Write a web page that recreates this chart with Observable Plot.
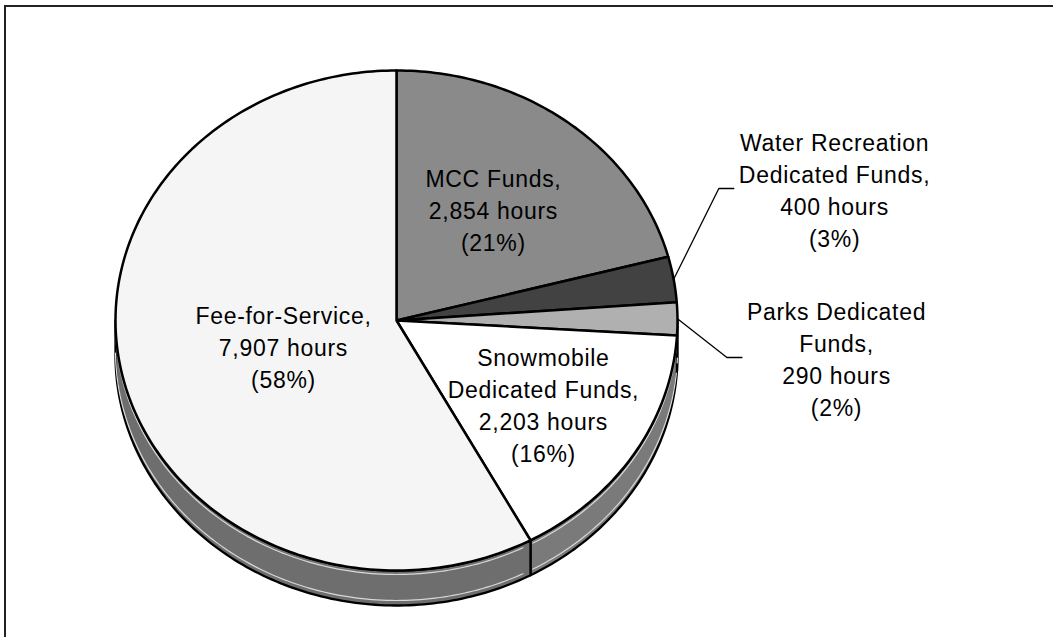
<!DOCTYPE html>
<html><head><meta charset="utf-8">
<script src="https://cdn.jsdelivr.net/npm/d3@7"></script>
<script src="https://cdn.jsdelivr.net/npm/@observablehq/plot@0.6"></script>
<style>
html,body{margin:0;padding:0;background:#fff;}
#wrap{position:relative;width:1053px;height:637px;overflow:hidden;background:#fff;}
#frame{position:absolute;left:4px;top:5px;width:1200px;height:800px;border-left:2px solid #222;border-top:2px solid #222;box-sizing:border-box;pointer-events:none;}
#chart{position:absolute;left:0;top:0;}
#chart svg text{letter-spacing:0.7px;}
</style></head><body>
<div id="wrap"><div id="chart"></div><div id="frame"></div></div>
<script>
// ---- data ----
const categories = ["MCC Funds", "Water Recreation Dedicated Funds", "Parks Dedicated Funds", "Snowmobile Dedicated Funds", "Fee-for-Service"];
const hours = [2854, 400, 290, 2203, 7907];
const labelNames = ["MCC Funds,", "Water Recreation\nDedicated Funds,", "Parks Dedicated\nFunds,", "Snowmobile\nDedicated Funds,", "Fee-for-Service,"];

// ---- styles / layout ----
const topFill  = ["#8a8a8a", "#424242", "#b0b0b0", "#ffffff", "#f5f5f5"];
const sideFill = ["#6a6a6a", "#3a3a3a", "#8a8a8a", "#7a7a7a", "#6e6e6e"];
const geom = {cx: 396, cy: 320, rx: 281, ry: 250, depth: 35};
const fontSize = 23, lineHeight = 1.39, letterSpacing = 0.7;
// inside labels: radial fraction along mid-angle; outside labels: position in pie units
const placement = [{r: 0.565}, {u: 1.559, v: 0.528}, {u: 1.566, v: -0.148}, {r: 0.62}, {r: 0.415}];

// ---- derived geometry ----
const total = d3.sum(hours);
const fmt = d3.format(",");
let acc = 0;
const slices = hours.map((h, i) => {
  const a0 = acc / total * 2 * Math.PI; acc += h;
  const a1 = acc / total * 2 * Math.PI;
  return {i, a0, a1, mid: (a0 + a1) / 2, pct: Math.round(h / total * 100)};
});
const depthV = geom.depth / geom.ry;
function arc(a0, a1, dv) {
  const n = Math.max(2, Math.ceil((a1 - a0) / (Math.PI / 180)));
  return d3.range(n + 1).map(k => {
    const a = a0 + (a1 - a0) * k / n;
    return {u: Math.sin(a), v: Math.cos(a) - dv};
  });
}
const topPolys = slices.map(s => [{u: 0, v: 0}, ...arc(s.a0, s.a1, 0), {u: 0, v: 0}]);
const sideRange = s => {
  const s0 = Math.max(s.a0, Math.PI / 2), s1 = Math.min(s.a1, 3 * Math.PI / 2);
  return s1 > s0 ? [s0, s1] : null;
};
const sidePolys = slices.map(s => {
  const r = sideRange(s);
  if (!r) return null;
  const top = arc(r[0], r[1], 0), bot = arc(r[0], r[1], depthV).reverse();
  return [...top, ...bot, top[0]];
});
// light sheen lines inside the side band
const sheen = slices.map(s => {
  const r = sideRange(s);
  if (!r) return [];
  return [
    ...arc(r[0] + 0.03, r[1] - 0.01, 4 / geom.ry).map(p => ({...p, id: s.i + "a"})),
    ...arc(r[0] + 0.03, r[1] - 0.01, depthV - 5 / geom.ry).map(p => ({...p, id: s.i + "b"}))
  ];
}).flat();

// text width measurement
const ctx = document.createElement("canvas").getContext("2d");
ctx.font = `${fontSize}px "Liberation Sans"`;
const textW = t => ctx.measureText(t).width + letterSpacing * t.length;

const labels = slices.map((s, i) => {
  const text = `${labelNames[i]}\n${fmt(hours[i])} hours\n(${s.pct}%)`;
  const p = placement[i];
  let u, v;
  if (p.r != null) { u = p.r * Math.sin(s.mid); v = p.r * Math.cos(s.mid); }
  else { u = p.u; v = p.v; }
  return {i, text, u, v, outside: p.r == null, s};
});
const leaders = labels.filter(d => d.outside).map(d => {
  const w = d3.max(d.text.split("\n"), textW);
  const endU = d.u - (w / 2 + 5) / geom.rx;
  const elbowU = endU - 15 / geom.rx;
  return [
    {id: d.i, u: Math.sin(d.s.mid), v: Math.cos(d.s.mid)},
    {id: d.i, u: elbowU, v: d.v},
    {id: d.i, u: endU, v: d.v}
  ];
}).flat();

const marks = [];
sidePolys.forEach((poly, i) => {
  if (poly) marks.push(Plot.line(poly, {x: "u", y: "v", fill: sideFill[i], stroke: "#000", strokeWidth: 2.3, strokeLinejoin: "round", curve: "linear"}));
});
marks.push(Plot.line(sheen, {x: "u", y: "v", z: "id", stroke: "#d8d8d8", strokeWidth: 1.2, curve: "linear"}));
topPolys.forEach((poly, i) => {
  marks.push(Plot.line(poly, {x: "u", y: "v", fill: topFill[i], stroke: "#000", strokeWidth: 2.5, strokeLinejoin: "round", curve: "linear"}));
});
marks.push(Plot.line(leaders, {x: "u", y: "v", z: "id", stroke: "#000", strokeWidth: 1.3}));
marks.push(Plot.text(labels, {x: "u", y: "v", text: "text", fontSize, lineHeight, fontFamily: "Liberation Sans, Arial, sans-serif", fill: "#000", textAnchor: "middle", lineAnchor: "middle"}));

const chart = Plot.plot({
  width: 1053, height: 637, margin: 0,
  x: {domain: [-1, 1], range: [geom.cx - geom.rx, geom.cx + geom.rx], axis: null},
  y: {domain: [-1, 1], range: [geom.cy + geom.ry, geom.cy - geom.ry], axis: null},
  style: {background: "transparent"},
  marks
});
document.getElementById("chart").appendChild(chart);
</script>
</body></html>
